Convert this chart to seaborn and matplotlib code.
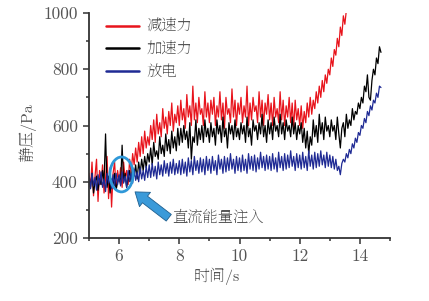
import numpy as np
import pandas as pd
import matplotlib
matplotlib.use('Agg')
import matplotlib.pyplot as plt
import seaborn as sns
from matplotlib import font_manager
from matplotlib.ft2font import FT2Font
from matplotlib.patches import Ellipse
from matplotlib.ticker import MultipleLocator

# ---------------- data ----------------
t_start = 5.0
t_step = 0.05
series_names = ['减速力', '加速力', '放电']
series_colors = ['#e8141c', '#000000', '#1f2a94']

red_vals = [
    430, 380, 470, 350, 420, 480, 330, 440, 390, 460, 360, 410, 490, 340, 450, 310, 430, 470, 370, 440,
    400, 450, 380, 470, 410, 440, 390, 480, 430, 500, 460, 520, 470, 540, 490, 560, 500, 580, 520, 560,
    530, 600, 550, 620, 540, 640, 570, 610, 560, 660, 590, 630, 570, 650, 600, 680, 580, 640, 610, 670,
    600, 690, 620, 660, 590, 710, 630, 670, 600, 740, 620, 680, 610, 700, 640, 660, 600, 720, 630, 680,
    610, 690, 640, 700, 600, 670, 630, 720, 620, 680, 590, 700, 640, 660, 610, 730, 630, 690, 600, 680,
    640, 700, 610, 670, 630, 740, 600, 680, 620, 700, 650, 670, 610, 720, 630, 690, 600, 680, 640, 710,
    620, 680, 600, 700, 630, 660, 610, 720, 620, 690, 600, 670, 630, 700, 610, 680, 590, 690, 620, 660,
    600, 670, 590, 650, 610, 680, 630, 700, 640, 690, 660, 720, 680, 740, 700, 760, 720, 780, 750, 800,
    780, 840, 810, 870, 850, 910, 880, 950, 920, 990, 960, 1010,
]
black_vals = [
    410, 380, 430, 360, 400, 420, 370, 410, 390, 440, 400, 570, 380, 420, 360, 410, 390, 430, 370, 400,
    420, 390, 530, 400, 430, 380, 410, 440, 400, 450, 420, 460, 410, 470, 430, 480, 440, 490, 450, 500,
    470, 520, 460, 540, 490, 510, 480, 560, 500, 530, 490, 570, 510, 550, 500, 580, 520, 560, 510, 590,
    530, 590, 540, 600, 550, 580, 520, 610, 480, 560, 540, 620, 530, 590, 550, 600, 540, 620, 560, 590,
    540, 610, 560, 590, 530, 620, 570, 600, 540, 630, 560, 590, 520, 610, 570, 600, 550, 620, 560, 590,
    550, 610, 570, 600, 540, 630, 560, 590, 530, 620, 580, 600, 550, 610, 570, 640, 560, 600, 540, 620,
    570, 610, 550, 630, 580, 600, 560, 640, 570, 610, 550, 620, 580, 600, 560, 630, 570, 610, 550, 600,
    570, 610, 540, 590, 520, 580, 500, 560, 530, 620, 560, 600, 540, 640, 570, 610, 550, 630, 580, 600,
    560, 620, 580, 600, 550, 630, 570, 520, 590, 610, 560, 640, 590, 620, 600, 660, 620, 650, 640, 680,
    660, 700, 680, 740, 720, 780, 700, 690, 760, 800, 780, 840, 820, 880, 860,
]
blue_vals = [
    420, 375, 430, 385, 415, 370, 425, 390, 435, 380, 410, 365, 430, 395, 420, 375, 425, 385, 430, 390,
    425, 385, 435, 395, 420, 380, 440, 400, 430, 395, 445, 405, 435, 400, 450, 410, 440, 405, 455, 415,
    460, 415, 465, 420, 455, 410, 470, 425, 460, 420, 475, 430, 465, 420, 470, 430, 480, 425, 465, 430,
    475, 425, 480, 430, 470, 420, 485, 435, 475, 425, 490, 440, 475, 430, 485, 435, 480, 425, 490, 440,
    480, 430, 490, 440, 475, 425, 495, 445, 480, 430, 490, 435, 485, 440, 500, 445, 480, 430, 490, 440,
    485, 435, 495, 440, 480, 430, 500, 445, 490, 440, 495, 435, 485, 445, 505, 450, 490, 440, 495, 445,
    490, 440, 500, 445, 485, 435, 505, 450, 490, 440, 500, 445, 495, 450, 510, 455, 490, 440, 500, 450,
    495, 445, 505, 450, 490, 440, 510, 455, 495, 445, 505, 450, 500, 455, 510, 460, 495, 450, 505, 455,
    495, 450, 490, 445, 480, 440, 455, 425, 465, 480, 470, 500, 485, 515, 500, 535, 520, 555, 540, 575,
    565, 600, 590, 625, 610, 650, 635, 670, 655, 690, 680, 715, 700, 740, 735,
]

x_ticks = [6, 8, 10, 12, 14]
x_ticklabels = ['6', '8', '10', '12', '14']
y_ticks = [200, 400, 600, 800, 1000]
annot_text = '直流能量注入'
x_label = '时间/s'
y_label = '静压/Pa'

# ---------------- build table ----------------
frames = []
for name, vals in zip(series_names, [red_vals, black_vals, blue_vals]):
    t = np.round(t_start + t_step * np.arange(len(vals)), 3)
    frames.append(pd.DataFrame({'t': t, 'p': vals, 'series': name}))
df = pd.concat(frames, ignore_index=True)

# ---------------- fonts ----------------
sns.set_style('ticks')
available = {f.name for f in font_manager.fontManager.ttflist}


def pick_latin():
    for cand in ['cmr10', 'Liberation Serif', 'DejaVu Serif']:
        if cand in available:
            return cand
    return 'DejaVu Serif'


def covers(fam, chars):
    try:
        path = font_manager.findfont(font_manager.FontProperties(family=fam),
                                     fallback_to_default=False)
        f = FT2Font(path)
        return all(f.get_char_index(ord(c)) != 0 for c in chars)
    except Exception:
        return False


cjk_chars = set(''.join(series_names) + annot_text + x_label + y_label) - set('/sPa')
cjk = 'Noto Sans CJK SC'
for cand in ['Noto Serif CJK SC', 'Noto Serif SC', 'Source Han Serif SC',
             'Noto Serif CJK TC', 'Noto Serif TC', 'Noto Serif JP']:
    if cand in available and covers(cand, cjk_chars):
        cjk = cand
        break
latin = pick_latin()
fam_list = [latin, cjk, 'Noto Sans CJK SC', 'DejaVu Sans']
plt.rcParams['font.family'] = fam_list
plt.rcParams['axes.unicode_minus'] = False
plt.rcParams['axes.formatter.use_mathtext'] = True
text_color = '#555555'

fig = plt.figure(figsize=(4.29, 3.01), dpi=100)
ax = fig.add_axes([89 / 429, 1 - 238 / 301, (390 - 89) / 429, (238 - 13) / 301])

sns.lineplot(data=df, x='t', y='p', hue='series', hue_order=series_names,
             palette=dict(zip(series_names, series_colors)), estimator=None,
             sort=False, linewidth=0.9, ax=ax)

ax.set_xlim(5, 15)
ax.set_ylim(200, 1000)
ax.set_xticks(x_ticks)
ax.set_xticklabels(x_ticklabels)
ax.set_yticks(y_ticks)
ax.set_yticklabels([str(v) for v in y_ticks])
ax.xaxis.set_minor_locator(MultipleLocator(1))
ax.yaxis.set_minor_locator(MultipleLocator(100))
ax.tick_params(which='major', direction='out', length=4, width=1.1,
               color='#333333', labelsize=12.5, labelcolor=text_color, pad=4)
ax.tick_params(which='minor', direction='out', length=2.5, width=1.1, color='#333333')
for s in ['top', 'right']:
    ax.spines[s].set_visible(False)
for s in ['left', 'bottom']:
    ax.spines[s].set_linewidth(1.3)
    ax.spines[s].set_color('#333333')
for lbl in ax.get_xticklabels() + ax.get_yticklabels():
    lbl.set_family(fam_list)

ax.set_xlabel(x_label, fontsize=11.5, color=text_color, family=fam_list)
ax.set_ylabel(y_label, fontsize=11.5, color=text_color, family=fam_list)
ax.xaxis.set_label_coords((217 - 89) / 301, -0.13)
ax.yaxis.set_label_coords((36 - 89) / 301, 0.47)

handles, labels = ax.get_legend_handles_labels()
for h in handles:
    h.set_linewidth(1.8)
leg = ax.legend(handles, labels, loc='upper left', bbox_to_anchor=(0.055, 0.975),
                frameon=False, fontsize=11, handlelength=2.2, handletextpad=0.45,
                labelspacing=0.4, borderpad=0.0, borderaxespad=0.0)
for txt in leg.get_texts():
    txt.set_color(text_color)
    txt.set_family([cjk, 'Noto Sans CJK SC', latin])

# annotation: circle + arrow + text
ax.add_patch(Ellipse((6.08, 426), width=0.77, height=124, fill=False,
                     ec='#2f98d8', lw=2.0, zorder=5))
ax.annotate('', xy=(6.53, 364), xytext=(7.65, 272),
            arrowprops=dict(arrowstyle='simple,head_length=0.9,head_width=1.3,tail_width=0.6',
                            fc='#3a9ad9', ec='#1f5f8f', lw=0.6, mutation_scale=10,
                            shrinkA=0, shrinkB=0), zorder=6)
ax.text(7.78, 271, annot_text, fontsize=11, color=text_color, ha='left', va='center',
        family=[cjk, 'Noto Sans CJK SC', latin])

fig.savefig('out.png', dpi=100)
